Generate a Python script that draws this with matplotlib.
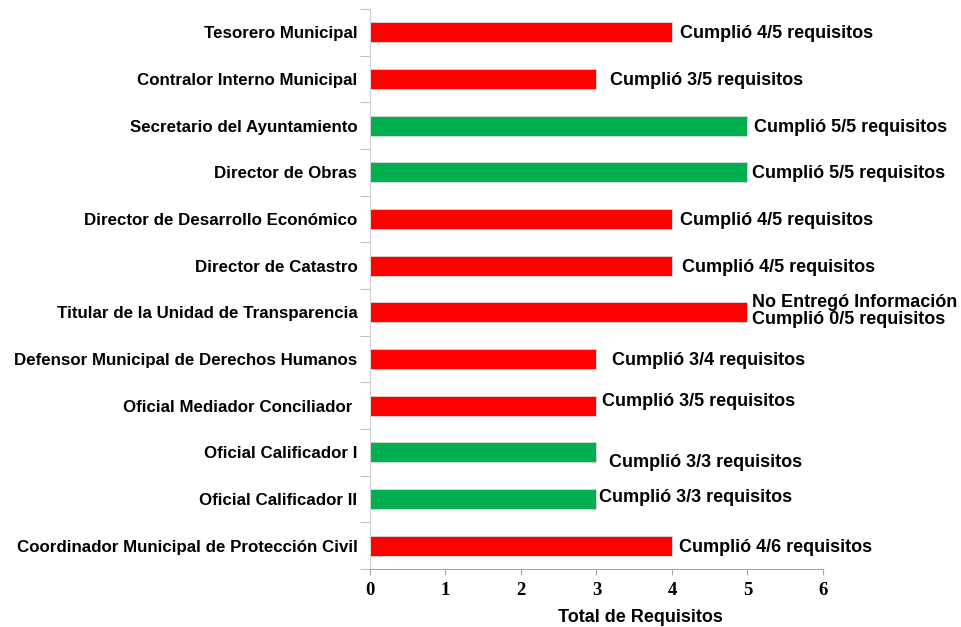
import matplotlib
matplotlib.use("Agg")
import matplotlib.pyplot as plt
import numpy as np

categories = [
    "Tesorero Municipal",
    "Contralor Interno Municipal",
    "Secretario del Ayuntamiento",
    "Director de Obras",
    "Director de Desarrollo Económico",
    "Director de Catastro",
    "Titular de la Unidad de Transparencia",
    "Defensor Municipal de Derechos Humanos",
    "Oficial Mediador Conciliador ",
    "Oficial Calificador I",
    "Oficial Calificador II",
    "Coordinador Municipal de Protección Civil",
]
values = [4, 3, 5, 5, 4, 4, 5, 3, 3, 3, 3, 4]
complied = [False, False, True, True, False, False, False, False, False, True, True, False]
annotations = [
    "Cumplió 4/5 requisitos",
    "Cumplió 3/5 requisitos",
    "Cumplió 5/5 requisitos",
    "Cumplió 5/5 requisitos",
    "Cumplió 4/5 requisitos",
    "Cumplió 4/5 requisitos",
    "No Entregó Información\nCumplió 0/5 requisitos",
    "Cumplió 3/4 requisitos",
    "Cumplió 3/5 requisitos",
    "Cumplió 3/3 requisitos",
    "Cumplió 3/3 requisitos",
    "Cumplió 4/6 requisitos",
]
xticks = [0, 1, 2, 3, 4, 5, 6]
xlabel = "Total de Requisitos"

# annotation offsets (points) for layout, matching the reference placement
ann_dx = [6, 10, 5, 3, 6, 7, 3, 11, 4, 9, 2, 5]
ann_dy = [0, 0, 0, 0, 0, 0, 2, 0, 4, -6, 2, 0]

plt.rcParams['font.family'] = ['Liberation Sans', 'DejaVu Sans']

fig = plt.figure(figsize=(9.61, 6.27), dpi=100)
ax = fig.add_axes([0.385, 0.0925, 0.4714, 0.8931])

y = np.arange(len(categories))
colors = ['#00B050' if c else '#FF0000' for c in complied]
ax.barh(y, values, height=0.43, color=colors, edgecolor='#d9d9d9', linewidth=0.6)

for yi, v, txt, dx, dy in zip(y, values, annotations, ann_dx, ann_dy):
    ax.annotate(txt, (v, yi), xytext=(dx, dy - 1), textcoords='offset points',
                ha='left', va='center', fontsize=13, fontweight='bold', color='black',
                linespacing=1.05)

ax.set_ylim(len(categories) - 0.5, -0.5)
ax.set_xlim(0, 6)
ax.set_yticks(y)
ax.set_yticklabels(categories, fontsize=12.2, fontweight='bold')
ax.tick_params(axis='y', which='major', length=0, pad=9)
ax.set_yticks(np.arange(-0.5, len(categories), 1.0), minor=True)
ax.tick_params(axis='y', which='minor', length=7, color='#bfbfbf', width=0.8)

ax.set_xticks(xticks)
ax.set_xticklabels([str(t) for t in xticks], fontsize=13.5, fontweight='bold',
                   family=['Liberation Serif', 'DejaVu Serif'])
ax.tick_params(axis='x', length=4, color='#a6a6a6', width=0.8, pad=5)
ax.set_xlabel(xlabel, fontsize=13, fontweight='bold')
ax.xaxis.set_label_coords(0.596, -0.071)

for s in ['top', 'right']:
    ax.spines[s].set_visible(False)
ax.spines['left'].set_color('#d0d0d0')
ax.spines['bottom'].set_color('#a6a6a6')
ax.spines['left'].set_linewidth(0.8)
ax.spines['bottom'].set_linewidth(0.8)

fig.savefig("out.png", dpi=100)
